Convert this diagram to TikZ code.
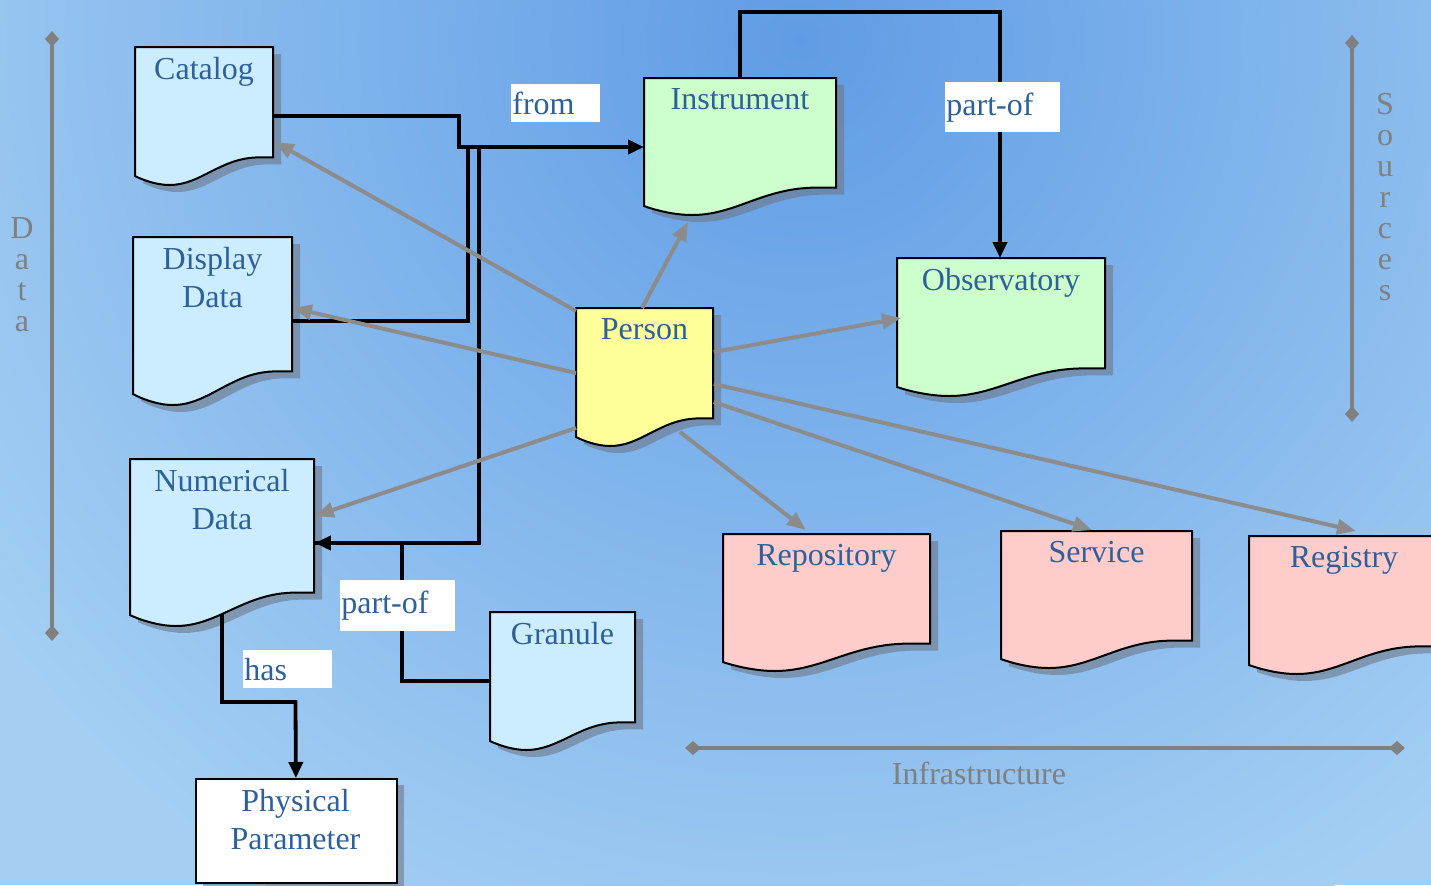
\documentclass[tikz,border=0pt]{standalone}
\usepackage{fontspec}
\setmainfont{Liberation Serif}
\usetikzlibrary{arrows.meta,calc}
\definecolor{txtc}{RGB}{46,96,153}
\definecolor{greyc}{RGB}{140,140,140}
\definecolor{barc}{RGB}{128,128,128}
\definecolor{docblue}{RGB}{204,236,255}
\definecolor{docgreen}{RGB}{204,255,204}
\definecolor{docyellow}{RGB}{255,255,153}
\definecolor{docpink}{RGB}{255,204,204}
\definecolor{bgin}{RGB}{96,156,229}
\definecolor{bgout}{RGB}{164,207,243}
\definecolor{shadc}{RGB}{110,120,135}
\tikzset{
 doctext/.style={text=txtc, font=\fontsize{16}{19}\selectfont, align=center, inner sep=0pt, anchor=north},
 docline/.style={draw=black, line width=1pt},
 shadowc/.style={fill=shadc, fill opacity=0.6},
 blk/.style={draw=black, line width=1.9pt},
 blkarr/.style={blk, -{Triangle[length=8pt,width=7pt]}},
 gry/.style={draw=greyc, line width=2pt, -{Triangle[length=9.5pt,width=7.5pt]}},
 lbl/.style={fill=white, text=txtc, font=\fontsize{16}{19}\selectfont, inner xsep=0.5pt, inner ysep=0pt, align=left, anchor=north west},
 bar/.style={draw=barc, line width=2pt, {Diamond[length=8pt,width=7pt]}-{Diamond[length=8pt,width=7pt]}},
 bartext/.style={text=barc, font=\fontsize{16}{15.5}\selectfont, align=center, inner sep=0pt}
}
\newcommand{\docpathdraw}[5]{%
 \path[#1] (#2,#3) -- ({#2+#4},#3) -- ({#2+#4},{#3+0.8*#5}) -- ({#2+0.9*#4},{#3+0.8*#5})
   .. controls ({#2+0.62*#4},{#3+0.8*#5}) and ({#2+0.48*#4},{#3+#5}) .. ({#2+0.25*#4},{#3+#5})
   .. controls ({#2+0.15*#4},{#3+#5}) and ({#2+0.05*#4},{#3+0.96*#5}) .. (#2,{#3+0.935*#5}) -- cycle;}
\newcommand{\docshadow}[4]{\docpathdraw{shadowc,shift={(8,7)}}{#1}{#2}{#3}{#4}}
\newcommand{\docbox}[7]{%
 \docpathdraw{docline,fill=#6}{#2}{#3}{#4}{#5}
 \node[inner sep=0pt, minimum width={#4*0.5pt}, minimum height={0.8*#5*0.5pt}, anchor=north west] (#1) at (#2,#3) {};
 \node[doctext] (#1-t) at ({#2+#4/2},{#3+10}) {#7};}
\begin{document}
\begin{tikzpicture}[x=0.5pt,y=-0.5pt]
\useasboundingbox (0,0) rectangle (1431,885);
\clip (0,0) rectangle (1431,885);
% background
\fill[bgout] (0,0) rectangle (1431,885);
\shade[inner color=bgin, outer color=bgout] (800,40) circle (1000);
% shadows
\docshadow{135}{47}{138}{138}
\docshadow{133}{237}{159}{168}
\docshadow{130}{459}{184}{167}
\docshadow{490}{612}{145}{138}
\docshadow{576}{308}{137}{138}
\docshadow{644}{78}{192}{137}
\docshadow{897}{258}{208}{138}
\docshadow{723}{534}{207}{137}
\docshadow{1001}{531}{191}{137}
\docshadow{1249}{536}{190}{138}
\fill[shadowc] (203,785) rectangle (404,889);
% anchor nodes for the connectors drawn beneath the boxes
\node[inner sep=0pt, minimum width={138*0.5pt}, minimum height={0.8*138*0.5pt}, anchor=north west] (catalog) at (135,47) {};
\node[inner sep=0pt, minimum width={159*0.5pt}, minimum height={0.8*168*0.5pt}, anchor=north west] (display) at (133,237) {};
\node[inner sep=0pt, minimum width={184*0.5pt}, minimum height={0.8*167*0.5pt}, anchor=north west] (numerical) at (130,459) {};
\node[inner sep=0pt, minimum width={145*0.5pt}, minimum height={0.8*138*0.5pt}, anchor=north west] (granule) at (490,612) {};
\node[inner sep=0pt, minimum width={192*0.5pt}, minimum height={0.8*137*0.5pt}, anchor=north west] (instrument) at (644,78) {};
\node[inner sep=0pt, minimum width={208*0.5pt}, minimum height={0.8*138*0.5pt}, anchor=north west] (observatory) at (897,258) {};
\node[inner sep=0pt, minimum width={201*0.5pt}, minimum height={104*0.5pt}, anchor=north west] (physical) at (195,778) {};
% black connectors
\draw[blkarr] ($(catalog.north east)+(0,69)$) -- (459,116) -- (459,147) -- ($(instrument.north west)+(0,69)$);
\draw[blk] ($(display.north east)+(0,84)$) -- (468,321) -- (468,147);
\draw[blk] ($(numerical.north east)+(0,84)$) -- (479,543) -- (479,147);
\draw[blkarr] ($(granule.north west)+(0,69)$) -- (402,681) -- (402,543) -- ($(numerical.north east)+(0,84)$);
\draw[blkarr] ($(instrument.north west)+(96,0)$) -- (740,12) -- (1000,12) -- ($(observatory.north west)+(103,0)$);
\draw[blkarr] ($(numerical.north west)+(92,150)$) -- (222,702) -- (295.5,702) -- (physical.north);
% boxes
\docbox{catalog}{135}{47}{138}{138}{docblue}{Catalog}
\docbox{display}{133}{237}{159}{168}{docblue}{Display\\Data}
\docbox{numerical}{130}{459}{184}{167}{docblue}{Numerical\\Data}
\docbox{granule}{490}{612}{145}{138}{docblue}{Granule}
\docbox{person}{576}{308}{137}{138}{docyellow}{Person}
\docbox{instrument}{644}{78}{192}{137}{docgreen}{Instrument}
\docbox{observatory}{897}{258}{208}{138}{docgreen}{Observatory}
\docbox{repository}{723}{534}{207}{137}{docpink}{Repository}
\docbox{service}{1001}{531}{191}{137}{docpink}{Service}
\docbox{registry}{1249}{536}{190}{138}{docpink}{Registry}
\node[draw=black, line width=1pt, fill=white, inner sep=0pt, minimum width={201*0.5pt}, minimum height={104*0.5pt}, anchor=north west] (physical) at (195,778) {};
\node[doctext] (physical-t) at (295.5,789) {Physical\\Parameter};
% grey connectors from Person
\draw[gry] ($(person.north west)+(0,3)$) -- ($(catalog.north east)+(1,95)$);
\draw[gry] ($(person.north west)+(0,65)$) -- ($(display.north east)+(0,71)$);
\draw[gry] ($(person.north west)+(0,120)$) -- ($(numerical.north east)+(0,57)$);
\draw[gry] ($(person.north west)+(66,0)$) -- ($(instrument.north west)+(44,144)$);
\draw[gry] ($(person.north east)+(0,44)$) -- ($(observatory.north west)+(4,60)$);
\draw[gry] ($(person.north west)+(104,124)$) -- ($(repository.north west)+(83,-4)$);
\draw[gry] ($(person.north east)+(0,94)$) -- ($(service.north west)+(91,-1)$);
\draw[gry] ($(person.north east)+(0,76)$) -- ($(registry.north west)+(107,-5)$);
% labels
\node[lbl, text width={89*0.5pt-1pt}, minimum height={38*0.5pt}] (lfrom) at (511,84) {from};
\node[lbl, text width={115*0.5pt-1pt}, minimum height={50*0.5pt}] (lpartA) at (945,82) {part-of};
\node[lbl, text width={115*0.5pt-1pt}, minimum height={51*0.5pt}] (lpartB) at (340,580) {part-of};
\node[lbl, text width={89*0.5pt-1pt}, minimum height={38*0.5pt}] (lhas) at (243,650) {has};
% side bars
\coordinate (dtop) at (52,31); \coordinate (dbot) at (52,641);
\draw[bar] (dtop) -- (dbot);
\node[bartext] (datat) at (22,275) {D\\a\\t\\a};
\coordinate (stop) at (1352,35); \coordinate (sbot) at (1352,422);
\draw[bar] (stop) -- (sbot);
\node[bartext] (sourcest) at (1385,197) {S\\o\\u\\r\\c\\e\\s};
\coordinate (ileft) at (685,748); \coordinate (iright) at (1405,748);
\draw[bar] (ileft) -- (iright);
\node[bartext] (infrat) at (979,773) {Infrastructure};
\end{tikzpicture}
\end{document}
